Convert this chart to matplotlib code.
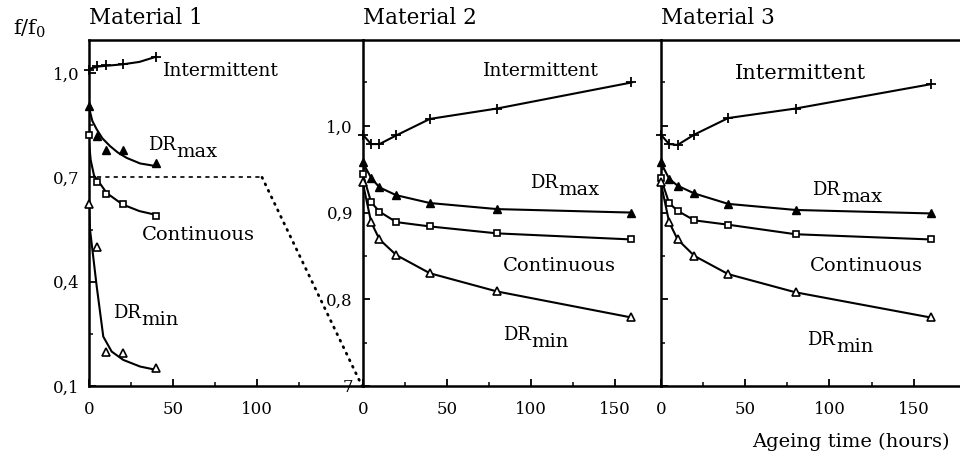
import matplotlib
matplotlib.use('Agg')
import matplotlib.pyplot as plt
from matplotlib.ticker import FixedLocator

plt.rcParams['font.family'] = ['DejaVu Serif']
plt.rcParams['mathtext.fontset'] = 'dejavuserif'

# ---------------- data ----------------
# Material 1 measured points
hours_m1 = [0, 5, 10, 20, 40]
m1_intermittent = [1.010, 1.020, 1.023, 1.025, 1.045]
m1_drmax = [0.905, 0.820, 0.780, 0.778, 0.740]
m1_continuous = [0.823, 0.686, 0.653, 0.622, 0.590]
m1_drmin = [0.624, 0.501, 0.199, 0.196, 0.151]

# Material 1 hand-drawn trend curves
m1_fit_t_inter = [0, 6, 20, 30, 40]
m1_fit_inter = [1.012, 1.019, 1.025, 1.032, 1.047]
m1_fit_t_drmax = [0, 2, 4.6, 8, 12.5, 17, 22.4, 30.4, 40.3]
m1_fit_drmax = [0.900, 0.862, 0.838, 0.812, 0.790, 0.772, 0.756, 0.740, 0.732]
m1_fit_t_cont = [0, 1, 3, 5.6, 10.5, 20, 30, 40]
m1_fit_cont = [0.800, 0.750, 0.705, 0.689, 0.655, 0.622, 0.603, 0.592]
m1_fit_t_drmin = [0, 0.6, 4.6, 8.5, 13.5, 20.4, 30.4, 40.3]
m1_fit_drmin = [0.620, 0.550, 0.386, 0.242, 0.199, 0.175, 0.156, 0.146]

# Zoom indicator on Material 1 (0.7 level, corner of the enlarged window)
zoom_level = 0.7
zoom_dash_x = [4.6, 103]
zoom_dot_x = [103, 162.5]
zoom_dot_y = [0.7, 0.1]

# Materials 2 and 3
hours = [0, 5, 10, 20, 40, 80, 160]
m2_intermittent = [0.990, 0.979, 0.979, 0.989, 1.008, 1.020, 1.050]
m2_drmax = [0.958, 0.940, 0.929, 0.920, 0.911, 0.904, 0.900]
m2_continuous = [0.945, 0.912, 0.901, 0.889, 0.884, 0.876, 0.869]
m2_drmin = [0.935, 0.889, 0.869, 0.851, 0.830, 0.809, 0.779]

m3_intermittent = [0.990, 0.979, 0.978, 0.990, 1.009, 1.020, 1.048]
m3_drmax = [0.958, 0.939, 0.931, 0.922, 0.910, 0.903, 0.899]
m3_continuous = [0.940, 0.911, 0.902, 0.891, 0.886, 0.875, 0.869]
m3_drmin = [0.935, 0.889, 0.869, 0.850, 0.829, 0.808, 0.779]

titles = ['Material 1', 'Material 2', 'Material 3']
m1_yticks = [0.1, 0.4, 0.7, 1.0]
m1_yticklabels = ['0,1', '0,4', '0,7', '1,0']
m1_yminor = [0.25, 0.55, 0.85]
m1_xticks = [0, 50, 100]
m1_xminor = [25, 75, 125]
m23_yticks = [0.7, 0.8, 0.9, 1.0]
m2_yticklabels = ['7', '0,8', '0,9', '1,0']
m23_yminor = [0.75, 0.85, 0.95, 1.05]
m23_xticks = [0, 50, 100, 150]
m23_xminor = [25, 75, 125]

# ---------------- figure ----------------
W, H = 960, 469
fig = plt.figure(figsize=(W / 100, H / 100), dpi=100)
bot = (H - 386) / H
hgt = 346 / H
ax1 = fig.add_axes([89 / W, bot, 273.7 / W, hgt])
ax2 = fig.add_axes([362.7 / W, bot, 298 / W, hgt])
ax3 = fig.add_axes([660.7 / W, bot, (W - 660.7) / W, hgt])

ax1.set_xlim(0, 162.9)
ax1.set_ylim(0.1, 1.095)
for ax in (ax2, ax3):
    ax.set_xlim(0, 177.4)
    ax.set_ylim(0.7, 1.099)

LW = 1.5
MS = 5.5
for ax in (ax1, ax2, ax3):
    ax.spines['right'].set_visible(False)
    for s in ('left', 'bottom', 'top'):
        ax.spines[s].set_linewidth(1.8)
    ax.tick_params(which='major', direction='in', length=5, width=1.3,
                   labelsize=12, top=False, right=False)
    ax.tick_params(which='minor', direction='in', length=3, width=1.1,
                   top=False, right=False)
    ax.tick_params(axis='x', which='major', pad=11)
    ax.tick_params(axis='y', which='major', pad=7)
    ax.patch.set_alpha(0)


def draw_series(ax, x, y, kind, line=True):
    if kind == 'inter':
        kw = dict(marker='+', ms=7, mew=1.3, color='black')
    elif kind == 'drmax':
        kw = dict(marker='^', ms=MS, mfc='black', mec='black', color='black')
    elif kind == 'cont':
        kw = dict(marker='s', ms=MS - 0.5, mfc='white', mec='black', mew=1.2, color='black')
    else:
        kw = dict(marker='^', ms=MS, mfc='white', mec='black', mew=1.2, color='black')
    ax.plot(x, y, ls='-' if line else 'none', lw=LW, clip_on=False, zorder=3, **kw)


def dr_label(ax, x, y, sub, size=13):
    t = ax.text(x, y, 'DR', fontsize=size, va='baseline', ha='left')
    ax.annotate(sub, xy=(1.0, 0.0), xycoords=t, xytext=(0.5, 1.5),
                textcoords='offset points', fontsize=size + 1, va='center', ha='left')


# ---- Material 1 ----
ax1.plot(m1_fit_t_inter, m1_fit_inter, color='black', lw=LW)
ax1.plot(m1_fit_t_drmax, m1_fit_drmax, color='black', lw=LW)
ax1.plot(m1_fit_t_cont, m1_fit_cont, color='black', lw=LW)
ax1.plot(m1_fit_t_drmin, m1_fit_drmin, color='black', lw=LW)
draw_series(ax1, hours_m1, m1_intermittent, 'inter', line=False)
draw_series(ax1, hours_m1, m1_drmax, 'drmax', line=False)
draw_series(ax1, hours_m1, m1_continuous, 'cont', line=False)
draw_series(ax1, hours_m1, m1_drmin, 'drmin', line=False)
ax1.plot(zoom_dash_x, [zoom_level, zoom_level], color='black', lw=1.2,
         ls=(0, (2.5, 2.5)))
ax1.plot(zoom_dot_x, zoom_dot_y, color='black', lw=2.0, ls=(0, (0.4, 2.2)),
         dash_capstyle='round', clip_on=False, zorder=5)

ax1.text(44, 0.991, 'Intermittent', fontsize=13.5, va='baseline')
dr_label(ax1, 35.1, 0.779, 'max')
ax1.text(31.5, 0.52, 'Continuous', fontsize=14, va='baseline')
dr_label(ax1, 14.3, 0.296, 'min')

ax1.yaxis.set_major_locator(FixedLocator(m1_yticks))
ax1.set_yticklabels(m1_yticklabels)
ax1.yaxis.set_minor_locator(FixedLocator(m1_yminor))
ax1.xaxis.set_major_locator(FixedLocator(m1_xticks))
ax1.set_xticklabels([str(v) for v in m1_xticks])
ax1.xaxis.set_minor_locator(FixedLocator(m1_xminor))

# ---- Materials 2 and 3 ----
for ax, inter, drmax, cont, drmin in ((ax2, m2_intermittent, m2_drmax, m2_continuous, m2_drmin),
                                      (ax3, m3_intermittent, m3_drmax, m3_continuous, m3_drmin)):
    draw_series(ax, hours, inter, 'inter')
    draw_series(ax, hours, drmax, 'drmax')
    draw_series(ax, hours, cont, 'cont')
    draw_series(ax, hours, drmin, 'drmin')
    ax.yaxis.set_major_locator(FixedLocator(m23_yticks))
    ax.yaxis.set_minor_locator(FixedLocator(m23_yminor))
    ax.xaxis.set_major_locator(FixedLocator(m23_xticks))
    ax.set_xticklabels([str(v) for v in m23_xticks])
    ax.xaxis.set_minor_locator(FixedLocator(m23_xminor))

ax2.set_yticklabels(m2_yticklabels)
ax3.set_yticklabels([''] * len(m23_yticks))

ax2.text(71.6, 1.058, 'Intermittent', fontsize=13.5, va='baseline')
dr_label(ax2, 99.6, 0.928, 'max')
ax2.text(83.5, 0.833, 'Continuous', fontsize=14, va='baseline')
dr_label(ax2, 83.5, 0.753, 'min')

ax3.text(44.2, 1.054, 'Intermittent', fontsize=15, va='baseline')
dr_label(ax3, 90, 0.920, 'max')
ax3.text(88.3, 0.833, 'Continuous', fontsize=14, va='baseline')
dr_label(ax3, 87, 0.747, 'min')

for ax, t in zip((ax1, ax2, ax3), titles):
    ax.text(0.0, 1.045, t, transform=ax.transAxes, fontsize=15.5,
            ha='left', va='baseline')

fig.text(13 / W, 1 - 35 / H, r'$\mathrm{f/f_0}$', fontsize=15, ha='left', va='baseline')
fig.text(950 / W, 1 - 447 / H, 'Ageing time (hours)', fontsize=14, ha='right', va='baseline')

fig.savefig('out.png', dpi=100)
